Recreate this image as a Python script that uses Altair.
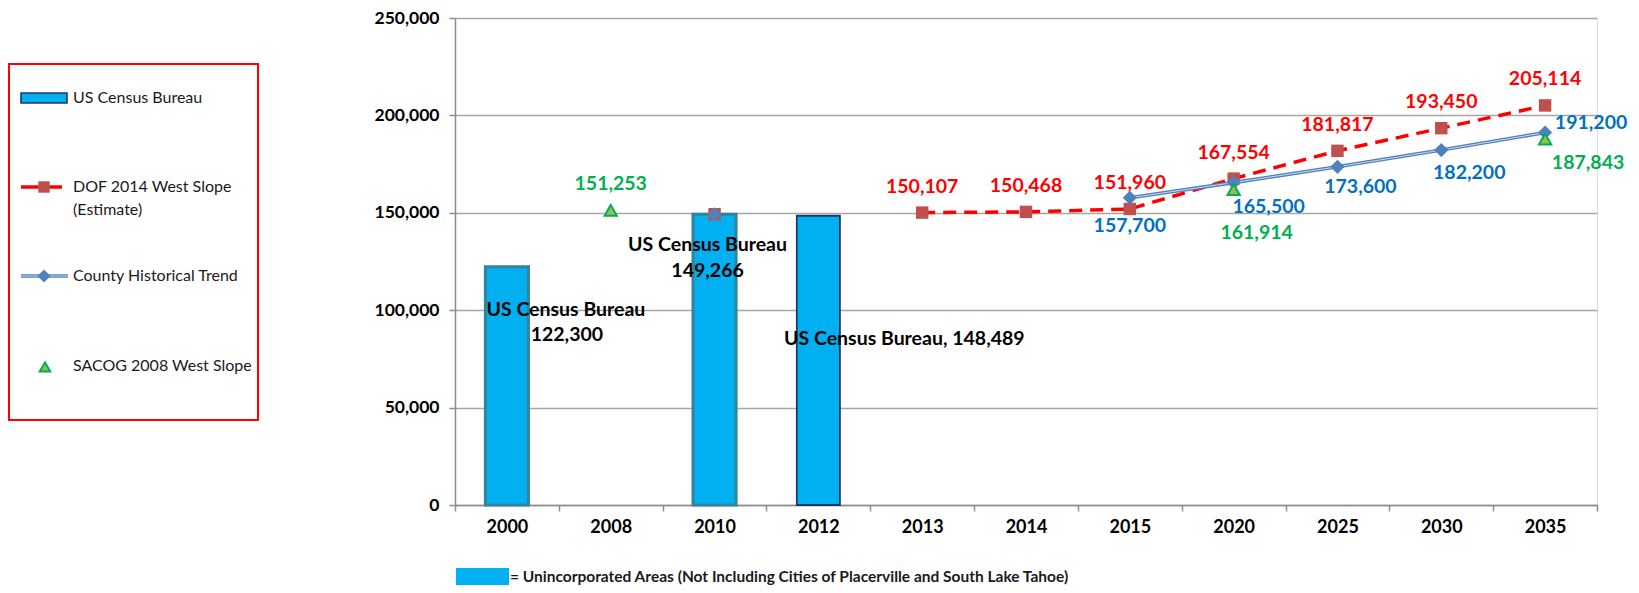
import altair as alt
import pandas as pd

# ---------------- data ----------------
categories = ["2000", "2008", "2010", "2012", "2013", "2014", "2015",
              "2020", "2025", "2030", "2035"]

census_years = ["2000", "2010", "2012"]
census_values = [122300, 149266, 148489]

dof_years = ["2010", "2013", "2014", "2015", "2020", "2025", "2030", "2035"]
dof_values = [149266, 150107, 150468, 151960, 167554, 181817, 193450, 205114]

county_years = ["2010", "2015", "2020", "2025", "2030", "2035"]
county_values = [149266, 157700, 165500, 173600, 182200, 191200]

sacog_years = ["2008", "2020", "2035"]
sacog_values = [151253, 161914, 187843]

y_ticks = [0, 50000, 100000, 150000, 200000, 250000]

legend_labels = ["US Census Bureau", "DOF 2014 West Slope", "(Estimate)",
                 "County Historical Trend", "SACOG 2008 West Slope"]
footnote = "= Unincorporated Areas (Not Including Cities of Placerville and South Lake Tahoe)"
bar_label_title = "US Census Bureau"

# ---------------- styles ----------------
FONT = "Lato"
BAR_FILL = "#00B0F0"
BAR_EDGE = "#31849B"
BAR_EDGE_2012 = "#1F3864"
RED = "#FF0000"
DOF_MARK = "#C0504D"
COUNTY = "#4F81BD"
COUNTY_INNER = "#C5D9F1"
COUNTY_TXT = "#0070C0"
SACOG_FILL = "#9BBB59"
SACOG_EDGE = "#00B050"
GRID = "#A6A6A6"
LABEL_SIZE = 19.5
W, H = 1142, 487


def segments(years):
    idx = [categories.index(y) for y in years]
    seg, out = 0, []
    for i, k in enumerate(idx):
        if i > 0 and k != idx[i - 1] + 1:
            seg += 1
        out.append(seg)
    return out


census_df = pd.DataFrame({"year": census_years, "value": census_values})
dof_df = pd.DataFrame({"year": dof_years, "value": dof_values, "seg": segments(dof_years)})
county_df = pd.DataFrame({"year": county_years, "value": county_values, "seg": segments(county_years)})
sacog_df = pd.DataFrame({"year": sacog_years, "value": sacog_values})

x_enc = alt.X(
    "year:N", sort=categories,
    scale=alt.Scale(type="band", domain=categories, paddingInner=0, paddingOuter=0),
    axis=alt.Axis(title=None, labelAngle=0, tickBand="extent", tickSize=6,
                  tickColor="#8C8C8C", tickWidth=1.5, domainColor="#8C8C8C",
                  domainWidth=1.5, labelPadding=7, labelFontSize=18,
                  labelFont=FONT, labelFontWeight="bold", labelColor="#000000",
                  grid=False),
)
y_enc = alt.Y(
    "value:Q",
    scale=alt.Scale(domain=[0, 250000], nice=False, zero=True),
    axis=alt.Axis(title=None, values=y_ticks, format=",d", tickSize=6,
                  tickColor="#8C8C8C", tickWidth=1.5, domainColor="#8C8C8C",
                  domainWidth=1.5, labelPadding=10, labelFontSize=17.5,
                  labelFont=FONT, labelFontWeight="bold", labelColor="#000000",
                  grid=True, gridColor=GRID, gridWidth=1.4),
)

layers = []

# bars
is2012 = alt.datum.year == "2012"
layers.append(
    alt.Chart(census_df).mark_bar(width=alt.RelativeBandSize(0.415), color=BAR_FILL).encode(
        x=x_enc, y=y_enc,
        stroke=alt.condition(is2012, alt.value(BAR_EDGE_2012), alt.value(BAR_EDGE)),
        strokeWidth=alt.condition(is2012, alt.value(1.8), alt.value(3)),
    )
)

# DOF dashed line + squares
layers.append(
    alt.Chart(dof_df).mark_line(color=RED, strokeWidth=3.5, strokeDash=[13, 8]).encode(
        x=x_enc, y=y_enc, detail="seg:N")
)
layers.append(
    alt.Chart(dof_df).mark_point(shape="square", filled=True, size=155, color=DOF_MARK, opacity=1).encode(
        x=x_enc, y=y_enc)
)

# County line (double look) + diamonds
layers.append(
    alt.Chart(county_df).mark_line(color=COUNTY, strokeWidth=3.6).encode(
        x=x_enc, y=y_enc, detail="seg:N")
)
layers.append(
    alt.Chart(county_df).mark_line(color=COUNTY_INNER, strokeWidth=1).encode(
        x=x_enc, y=y_enc, detail="seg:N")
)
layers.append(
    alt.Chart(county_df).mark_point(shape="diamond", filled=True, size=200, color=COUNTY, opacity=1).encode(
        x=x_enc, y=y_enc)
)

# SACOG triangles
layers.append(
    alt.Chart(sacog_df).mark_point(shape="triangle-up", filled=True, size=150, fill=SACOG_FILL,
                                   stroke=SACOG_EDGE, strokeWidth=2, opacity=1).encode(
        x=x_enc, y=y_enc)
)

# ---------------- data labels ----------------
labels = []
for yr, v in zip(dof_years[1:], dof_values[1:]):
    labels.append((yr, v, f"{v:,}", RED, 0, -26))
county_offsets = [(0, 28), (35, 24), (23, 20), (28, 23), (46, -10)]
for (yr, v), (dx, dy) in zip(zip(county_years[1:], county_values[1:]), county_offsets):
    labels.append((yr, v, f"{v:,}", COUNTY_TXT, dx, dy))
sacog_offsets = [(0, -26), (23, 43), (43, 24)]
for (yr, v), (dx, dy) in zip(zip(sacog_years, sacog_values), sacog_offsets):
    labels.append((yr, v, f"{v:,}", SACOG_EDGE, dx, dy))
# census bar labels
c = dict(zip(census_years, census_values))
labels.append(("2000", c["2000"], bar_label_title, "#000000", 59, 43))
labels.append(("2000", c["2000"], f"{c['2000']:,}", "#000000", 60, 68))
labels.append(("2010", c["2010"], bar_label_title, "#000000", -7, 31))
labels.append(("2010", c["2010"], f"{c['2010']:,}", "#000000", -7, 57))
labels.append(("2012", c["2012"], f"{bar_label_title}, {c['2012']:,}", "#000000", 86, 123))

for yr, v, txt, col, dx, dy in labels:
    layers.append(
        alt.Chart(pd.DataFrame({"year": [yr], "value": [v], "label": [txt]}))
        .mark_text(dx=dx, dy=dy, color=col, font=FONT, fontSize=LABEL_SIZE, fontWeight="bold")
        .encode(x=x_enc, y=y_enc, text="label:N")
    )

# ---------------- decorations: legend box, footnote ----------------
one = pd.DataFrame({"k": [0]})

layers.append(
    alt.Chart(one).mark_rect(fillOpacity=0, stroke=RED, strokeWidth=2).encode(
        x=alt.value(-446), x2=alt.value(-197), y=alt.value(46), y2=alt.value(402))
)
# census symbol
layers.append(
    alt.Chart(one).mark_rect(color=BAR_FILL, stroke=BAR_EDGE_2012, strokeWidth=1.6).encode(
        x=alt.value(-434), x2=alt.value(-388), y=alt.value(75), y2=alt.value(85))
)
# DOF symbol
layers.append(
    alt.Chart(one).mark_rule(color=RED, strokeWidth=3.5).encode(
        x=alt.value(-434), x2=alt.value(-393), y=alt.value(169))
)
layers.append(
    alt.Chart(one).mark_point(shape="square", filled=True, size=130, color=DOF_MARK, opacity=1).encode(
        x=alt.value(-411), y=alt.value(169))
)
# County symbol
layers.append(
    alt.Chart(one).mark_rule(color=COUNTY, strokeWidth=3.6).encode(
        x=alt.value(-434), x2=alt.value(-387), y=alt.value(258))
)
layers.append(
    alt.Chart(one).mark_rule(color=COUNTY_INNER, strokeWidth=1).encode(
        x=alt.value(-434), x2=alt.value(-387), y=alt.value(258))
)
layers.append(
    alt.Chart(one).mark_point(shape="diamond", filled=True, size=170, color=COUNTY, opacity=1).encode(
        x=alt.value(-411), y=alt.value(258))
)
# SACOG symbol
layers.append(
    alt.Chart(one).mark_point(shape="triangle-up", filled=True, size=110, fill=SACOG_FILL,
                              stroke=SACOG_EDGE, strokeWidth=2, opacity=1).encode(
        x=alt.value(-410), y=alt.value(349))
)
legend_y = [80, 169, 192, 258, 348]
for txt, yy in zip(legend_labels, legend_y):
    layers.append(
        alt.Chart(one).mark_text(align="left", baseline="middle", font=FONT, fontSize=16,
                                 color="#1A1A1A").encode(
            x=alt.value(-382), y=alt.value(yy), text=alt.value(txt))
    )

# footnote
layers.append(
    alt.Chart(one).mark_rect(color=BAR_FILL).encode(
        x=alt.value(1), x2=alt.value(54), y=alt.value(550), y2=alt.value(575))
)
layers.append(
    alt.Chart(one).mark_text(align="left", baseline="middle", font=FONT, fontSize=15.5,
                             fontWeight="bold", color="#1A1A1A").encode(
        x=alt.value(55), y=alt.value(559), text=alt.value(footnote))
)

chart = (
    alt.layer(*layers)
    .properties(
        width=W, height=H,
        autosize=alt.AutoSizeParams(type="none"),
        padding={"left": 447, "top": 10, "right": 34, "bottom": 80},
    )
    .configure_view(stroke=None)
    .configure(background="white")
)

chart.save("out.html", embed_options={"renderer": "svg", "actions": False})
